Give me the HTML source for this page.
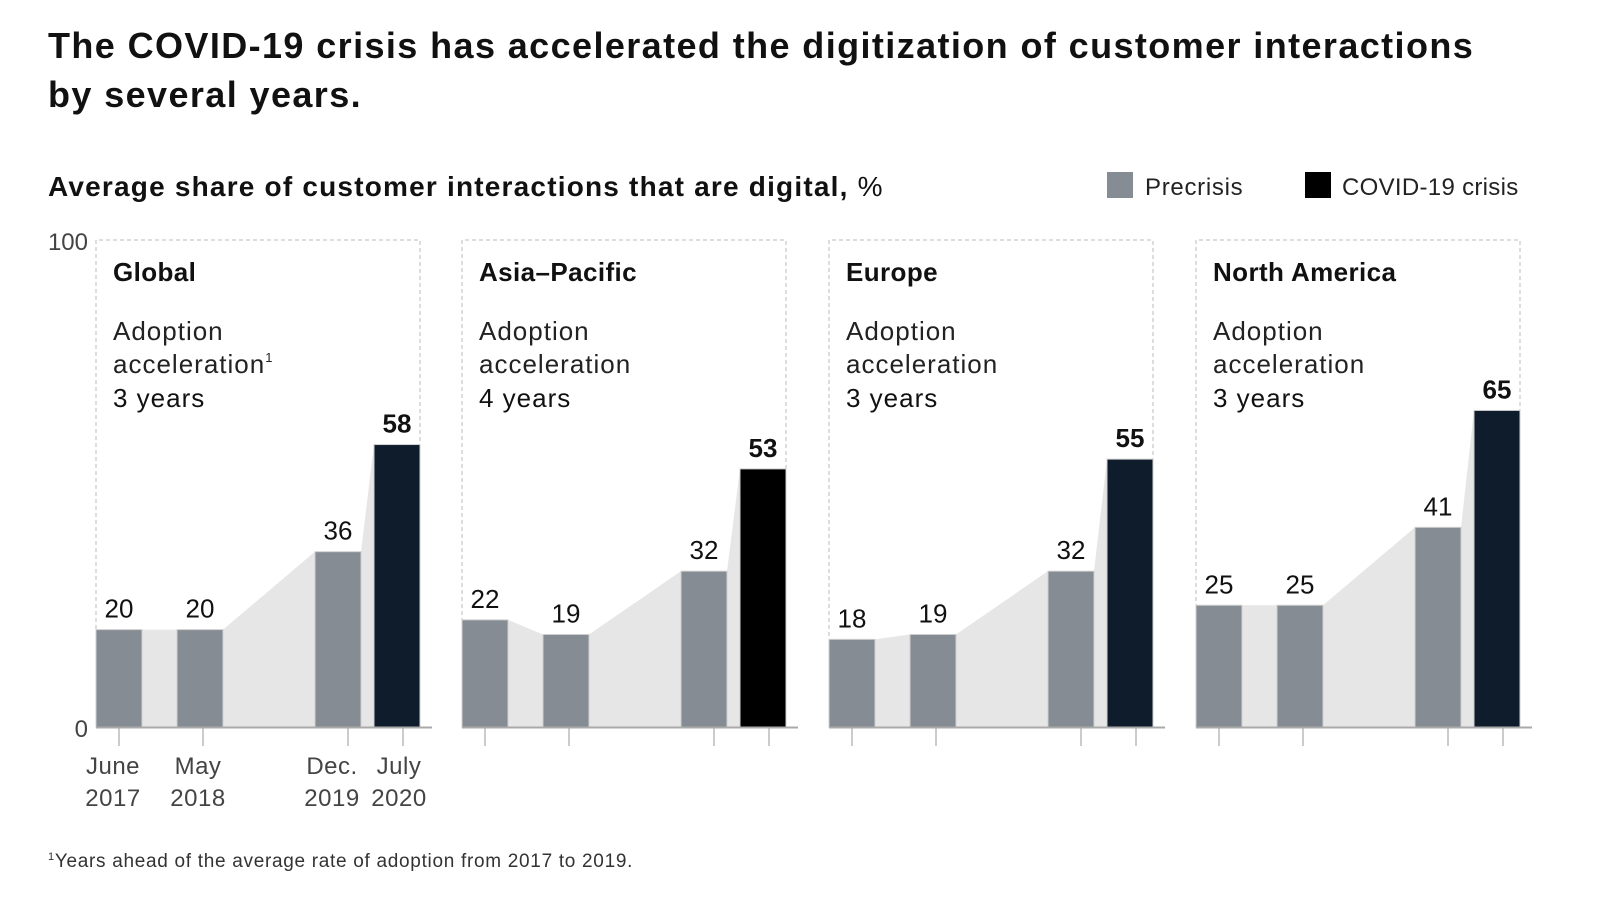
<!DOCTYPE html>
<html><head><meta charset="utf-8"><style>
body{margin:0;background:#fff;font-family:"Liberation Sans",sans-serif;}
svg text{font-family:"Liberation Sans",sans-serif;}
</style></head><body>
<svg id="chart" width="1600" height="899" viewBox="0 0 1600 899" xmlns="http://www.w3.org/2000/svg">
<text x="48" y="58" font-size="36" font-weight="bold" fill="#111" letter-spacing="1.4">The COVID-19 crisis has accelerated the digitization of customer interactions</text>
<text x="48" y="107" font-size="36" font-weight="bold" fill="#111" letter-spacing="1.4">by several years.</text>
<text x="48" y="196" font-size="28" font-weight="bold" fill="#111" letter-spacing="1.2">Average share of customer interactions that are digital, <tspan font-weight="normal">%</tspan></text>
<rect x="1107" y="172" width="26" height="26" fill="#858c93"/>
<text x="1145" y="195" font-size="24" fill="#222" letter-spacing="0.7">Precrisis</text>
<rect x="1305" y="172" width="26" height="26" fill="#000"/>
<text x="1342" y="195" font-size="24" fill="#222" letter-spacing="0.3">COVID-19 crisis</text>
<text x="88" y="250" font-size="24" fill="#444" text-anchor="end">100</text>
<text x="88" y="737" font-size="24" fill="#444" text-anchor="end">0</text>
<g id="panels"></g>
<text x="48" y="867" font-size="19" fill="#333" letter-spacing="0.7"><tspan font-size="11" dy="-7">1</tspan><tspan dy="7">Years ahead of the average rate of adoption from 2017 to 2019.</tspan></text>
</svg>
<script>
const regions = ["Global","Asia\u2013Pacific","Europe","North America"];
const accelYears = ["3 years","4 years","3 years","3 years"];
const jun2017 = [20,22,18,25];
const may2018 = [20,19,19,25];
const dec2019 = [36,32,32,41];
const jul2020 = [58,53,55,65];
const dateLabels = [["June","2017"],["May","2018"],["Dec.","2019"],["July","2020"]];

const NS="http://www.w3.org/2000/svg";
const panelsG=document.getElementById('panels');
const panelX=[96,462,829,1196];
const yScale=v=>727-v*4.87;
const barOff=[0,81,219,278], barW=46, tickOff=[23,107,252,307];
function mk(tag,attrs,parent,text){const e=document.createElementNS(NS,tag);for(const k in attrs)e.setAttribute(k,attrs[k]);if(text!==undefined)e.textContent=text;parent.appendChild(e);return e;}
regions.forEach((r,i)=>{
  const x0=panelX[i];
  const g=mk('g',{},panelsG);
  
  
  const vals=[jun2017[i],may2018[i],dec2019[i],jul2020[i]];
  const frame=mk('path',{d:`M${x0} 727V240H${x0+324}V727`,fill:'none',stroke:'#bbb','stroke-dasharray':'4 3','stroke-width':1},g);
  
  
  let pts=[[x0,727]];
  vals.forEach((v,j)=>{pts.push([x0+barOff[j],yScale(v)]);pts.push([x0+barOff[j]+barW,yScale(v)]);});
  pts.push([x0+barOff[3]+barW,727]);
  const area=mk('polygon',{points:pts.map(p=>p.join(',')).join(' '),fill:'#e6e6e6'},g);
  
  
  vals.forEach((v,j)=>{
    const last=j===3;
    const fill=last?(i===1?'#000':'#0e1c2c'):'#858c93';
    const b=mk('rect',{x:x0+barOff[j],y:yScale(v),width:barW,height:727-yScale(v),fill:fill,stroke:'#d0d0d0','stroke-width':1},g);
    
    
    const t=mk('text',{x:x0+barOff[j]+barW/2,y:yScale(v)-12,'font-size':26,'text-anchor':'middle',fill:'#111','font-weight':last?'bold':'normal'},g,String(v));
    
    
    const tk=mk('line',{x1:x0+tickOff[j],x2:x0+tickOff[j],y1:728,y2:746,stroke:'#bbb','stroke-width':1.5},g);
    
    
    if(i===0){
      const cx=[x0+barOff[j]+barW/2-6,x0+barOff[j]+barW/2-2,x0+barOff[j]+barW/2-6,x0+barOff[j]+barW/2+2][j];
      const l1=mk('text',{x:cx,y:774,'font-size':24,'text-anchor':'middle',fill:'#444','letter-spacing':0.5},g,dateLabels[j][0]);
      
      
      const l2=mk('text',{x:cx,y:806,'font-size':24,'text-anchor':'middle',fill:'#444','letter-spacing':0.5},g,dateLabels[j][1]);
      
      
    }
  });
  const ax=mk('line',{x1:x0,x2:x0+336,y1:727.5,y2:727.5,stroke:'#aaa','stroke-width':2},g);
  
  
  const tx=x0+17;
  const h=mk('text',{x:tx,y:281,'font-size':26,'font-weight':'bold',fill:'#111','letter-spacing':0.4},g,r);
  
  
  const a1=mk('text',{x:tx,y:340,'font-size':26,fill:'#222','letter-spacing':1},g,'Adoption');
  
  
  const a2=mk('text',{x:tx,y:373,'font-size':26,fill:'#222','letter-spacing':1},g,'acceleration');
  
  
  if(i===0){mk('tspan',{'font-size':13,dy:-11},a2,'1');}
  const a3=mk('text',{x:tx,y:407,'font-size':26,fill:'#111','letter-spacing':1},g,accelYears[i]);
  
  
});
</script>
</body></html>
